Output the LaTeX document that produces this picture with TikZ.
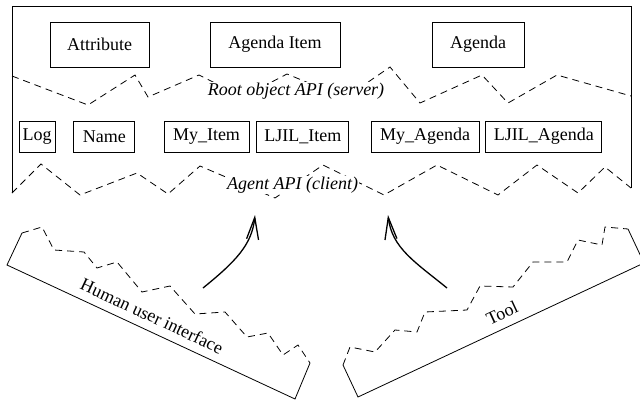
\documentclass[tikz,border=0pt]{standalone}
\usepackage{fontspec}
\setmainfont{Liberation Serif}
\usetikzlibrary{arrows.meta, positioning}

\newcommand{\figfont}{\fontsize{18}{21}\selectfont}

\tikzset{
  objbox/.style={draw, line width=0.8pt, minimum height=45pt, inner sep=0pt},
  agentbox/.style={draw, line width=0.8pt, minimum height=31pt, inner sep=0pt},
  apilabel/.style={fill=white, inner sep=1pt, font=\figfont\itshape},
  layer/.style={line width=0.8pt},
  zigzag/.style={line width=0.8pt, dash pattern=on 7pt off 5pt},
  calls/.style={line width=1.3pt, -{Straight Barb[length=22pt,width=12pt]}},
}

\begin{document}
\begin{tikzpicture}[x=1pt, y=-1pt, font=\figfont]
  \useasboundingbox (0,0) rectangle (640,402);

  % server frame
  \draw[layer] (12,193) |- (631,6) -- (631,188);

  % root objects
  \node[objbox, minimum width=99pt]  (attribute)  at (99.5,44.5) {Attribute};
  \node[objbox, minimum width=130pt] (agendaitem) at (275,44.5)  {Agenda Item};
  \node[objbox, minimum width=92pt]  (agenda)     at (478,44.5)  {Agenda};

  % root object API
  \draw[zigzag] (12,76) -- (88,105) -- (135,75) -- (148,97) -- (199,75)
    -- (243,97) -- (287,74) -- (345,98) -- (390,67) -- (420,103)
    -- (482,75) -- (508,103) -- (557,75) -- (631,96);
  \node[apilabel] (rootapi) at (296,91) {Root object API (server)};

  % agents
  \node[agentbox, minimum width=36pt] (log) at (37,136.5) {Log};
  \node[agentbox, minimum width=61pt, right=18pt of log] (name) {Name};
  \node[agentbox, minimum width=85pt] (myitem) at (206.5,136.5) {My\_Item};
  \node[agentbox, minimum width=92pt, right=7pt of myitem] (ljilitem) {LJIL\_Item};
  \node[agentbox, minimum width=108pt] (myagenda) at (425,136.5) {My\_Agenda};
  \node[agentbox, minimum width=116pt, right=6pt of myagenda] (ljilagenda) {LJIL\_Agenda};

  % agent API
  \draw[zigzag] (12,193) -- (41,164) -- (80,195) -- (137,173) -- (168,194)
    -- (200,166) -- (275,198) -- (323,165) -- (384,195) -- (437,165)
    -- (498,195) -- (537,165) -- (578,193) -- (605,167) -- (631,188);
  \node[apilabel] (agentapi) at (292.5,185) {Agent API (client)};

  % human user interface
  \draw[layer] (22,233) -- (7,265) -- (295,399) -- (310,363);
  \draw[zigzag] (22,233) -- (42,227) -- (54,250) -- (84,252) -- (97,268)
    -- (117,262) -- (142,292) -- (170,286) -- (195,314) -- (225,312)
    -- (247,337) -- (268,333) -- (283,355) -- (298,345) -- (310,363);
  \node[rotate=-25] (hui) at (152,316) {Human user interface};

  % tool
  \draw[layer] (343,365) -- (358,397) -- (644,263) -- (628,229);
  \draw[zigzag] (343,365) -- (350,347) -- (375,352) -- (395,330) -- (417,332)
    -- (425,312) -- (467,310) -- (480,286) -- (513,287) -- (533,262)
    -- (567,262) -- (578,240) -- (602,245) -- (605,227) -- (628,229);
  \node[rotate=25] (tool) at (502,313) {Tool};

  % calls into the agent API
  \coordinate (huifrom) at (203,288);
  \coordinate (huito) at (255,215);
  \coordinate (toolfrom) at (447,288);
  \coordinate (toolto) at (388,215);
  \draw[calls] (huifrom) .. controls (235,262) and (252,245) .. (huito);
  \draw[calls] (toolfrom) .. controls (415,262) and (392,248) .. (toolto);
\end{tikzpicture}
\end{document}
